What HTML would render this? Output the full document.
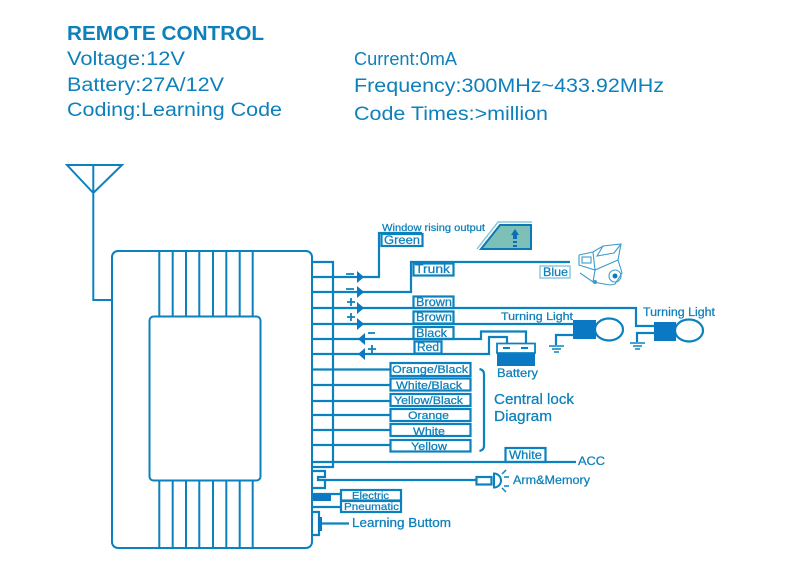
<!DOCTYPE html>
<html><head><meta charset="utf-8"><style>html,body{margin:0;padding:0;background:#fff;width:800px;height:579px;overflow:hidden}svg{display:block;filter:blur(0.35px)}text{font-family:"Liberation Sans",sans-serif;fill:#0e80bb}.s text{stroke:#0e80bb;stroke-width:.25}</style></head><body>
<svg width="800" height="579" viewBox="0 0 800 579">
<rect width="800" height="579" fill="#fff"/>
<g>
<text x="67" y="40" font-size="20" font-weight="bold" textLength="197" lengthAdjust="spacingAndGlyphs">REMOTE CONTROL</text>
<text x="67" y="65" font-size="19" textLength="118" lengthAdjust="spacingAndGlyphs">Voltage:12V</text>
<text x="67" y="91" font-size="19" textLength="157" lengthAdjust="spacingAndGlyphs">Battery:27A/12V</text>
<text x="67" y="116" font-size="19" textLength="215" lengthAdjust="spacingAndGlyphs">Coding:Learning Code</text>
<text x="354" y="65" font-size="18" textLength="103" lengthAdjust="spacingAndGlyphs">Current:0mA</text>
<text x="354" y="92" font-size="19" textLength="310" lengthAdjust="spacingAndGlyphs">Frequency:300MHz~433.92MHz</text>
<text x="354" y="120" font-size="19" textLength="194" lengthAdjust="spacingAndGlyphs">Code Times:&gt;million</text>
</g>
<g fill="none" stroke="#0b82bf" stroke-width="2">
<path d="M67 165H122L93.3 193ZM93.3 165V300H112"/>
<rect x="112" y="251" width="200" height="297" rx="6"/>
<rect x="149.500" y="316.500" width="111" height="164" rx="4"/>
<path d="M159.300 251V316M172.700 251V316M186 251V316M199.300 251V316M213 251V316M226.300 251V316M239.700 251V316M252.700 251V316"/>
<path d="M159.300 481V548M172.700 481V548M186 481V548M199.300 481V548M213 481V548M226.300 481V548M239.700 481V548M252.700 481V548"/>
</g>
<g fill="none" stroke="#0b82bf" stroke-width="2.200">
<path d="M312 262H333V467H313"/>
<path d="M313 277H379V233H422"/>
<path d="M313 292H411V262H570"/>
<path d="M313 308H636V326H654"/>
<path d="M313 324H574"/>
<path d="M313 339H481V331.500H526V343"/>
<path d="M313 354H489V337H507V343"/>
<path d="M313 369.500H390M313 385H390M313 401H390M313 415H390M313 430H390M313 445H390"/>
<path d="M313 462H576"/>
<path d="M313 471H325V477H318V480H476M313 488H325V480"/>
<path d="M313 494H341M313 507H341"/>
<path d="M313 512H319V535H313M322 523.500H349"/>
<rect x="381.500" y="234" width="41" height="12"/>
<rect x="413.500" y="263.500" width="40" height="12"/>
<rect x="413.500" y="296.500" width="40" height="11.500"/>
<rect x="413.500" y="311.500" width="40" height="12"/>
<rect x="413.500" y="327" width="40" height="12"/>
<rect x="414.500" y="341.500" width="27" height="12"/>
<rect x="390.500" y="363" width="80" height="13"/>
<rect x="390.500" y="378.500" width="80" height="12"/>
<rect x="390.500" y="394" width="80" height="12"/>
<rect x="390.500" y="409" width="80" height="12"/>
<rect x="390.500" y="424" width="80" height="12"/>
<rect x="390.500" y="440" width="80" height="11.500"/>
<rect x="505.500" y="448" width="40" height="14"/>
<rect x="341" y="490" width="60" height="10.500"/>
<rect x="341" y="501" width="60" height="11"/>
<path d="M479.500 369Q484 370 484 374V446Q484 450 479.500 451"/>
<path d="M556 345V335H574M637 342V333H654"/>
<ellipse cx="609" cy="329.500" rx="14" ry="11"/>
<ellipse cx="689" cy="330.500" rx="14" ry="11"/>
<rect x="476.500" y="477" width="15" height="7.500"/>
<path d="M506 470L502 474M509 477H504M509 486H504M506 492L502 488" stroke-width="1.500"/>
<path d="M549 346H564M552 349H561M554 352H559M630 343H645M633 346H642M635 349H640" stroke-width="1.500"/>
</g>
<path d="M494 473.500A7 7 0 1 1 494 487.500Z" fill="#fff" stroke="#0b82bf" stroke-width="2"/>
<g fill="#0b78c4">
<rect x="573" y="320" width="23" height="19"/>
<rect x="654" y="322" width="22" height="19"/>
<rect x="497" y="353" width="38" height="13"/>
<rect x="313" y="494" width="18" height="7"/>
<rect x="318" y="517" width="4" height="14"/>
<path d="M357 271L364 277L357 283ZM357 286L364 292L357 298ZM357 302L364 308L357 314ZM357 318L364 324L357 330ZM365 333L358 339L365 345ZM365 348L358 354L365 360Z"/>
</g>
<path d="M497 343.500H535V353H497Z" fill="#fff" stroke="#0b82bf" stroke-width="1.800"/>
<path d="M503 348H510M521 348H528" stroke="#0b82bf" stroke-width="2"/>
<path d="M477 249L498 222H532" fill="none" stroke="#8cc9d8" stroke-width="1.500"/>
<path d="M481 249L500 225H531V249Z" fill="#7cc0b8" stroke="#0b78b8" stroke-width="2"/>
<path d="M515 229L519 235H517V239H513V235H511ZM513 241H517V243H513ZM513 245H517V247H513Z" fill="#0b6fb8"/>
<rect x="540" y="266" width="30" height="12" fill="none" stroke="#70bcdc" stroke-width="1.200"/>
<g fill="none" stroke="#3a9ccc" stroke-width="1.100">
<path d="M579 255L593 252L603 246L621 244L618 260L622 273L615 284L610 285L593 282L580 273"/>
<path d="M579 255L579 265L595 270L618 260M593 252L595 270M603 246L597 256L614 253L621 244M595 270L593 282"/>
<rect x="582" y="257" width="9" height="6"/>
<circle cx="615" cy="276" r="6"/>
</g>
<circle cx="595" cy="282" r="2" fill="#3a9ccc"/>
<circle cx="615" cy="276" r="2.500" fill="#0b78c4"/>
<path d="M346 274H354M346 289H354M347 302H355M351 298V306M347 317H355M351 313V321M368 333H375M368 349H376M372 345V353" stroke="#0e80bb" stroke-width="1.800" fill="none"/>
<g font-size="11" class="s">
<text x="382" y="231" font-size="10.500" textLength="103" lengthAdjust="spacingAndGlyphs">Window rising output</text>
<text x="384" y="244" font-size="12" textLength="36" lengthAdjust="spacingAndGlyphs">Green</text>
<text x="415" y="273" font-size="12" textLength="35" lengthAdjust="spacingAndGlyphs">Trunk</text>
<text x="543" y="276" font-size="12" textLength="25" lengthAdjust="spacingAndGlyphs">Blue</text>
<text x="416" y="306" font-size="12" textLength="36" lengthAdjust="spacingAndGlyphs">Brown</text>
<text x="416" y="321" font-size="12" textLength="36" lengthAdjust="spacingAndGlyphs">Brown</text>
<text x="416" y="337" font-size="12" textLength="31" lengthAdjust="spacingAndGlyphs">Black</text>
<text x="417" y="351" font-size="12" textLength="22" lengthAdjust="spacingAndGlyphs">Red</text>
<text x="501" y="320" textLength="72" lengthAdjust="spacingAndGlyphs">Turning Light</text>
<text x="643" y="316" font-size="11.500" textLength="72" lengthAdjust="spacingAndGlyphs">Turning Light</text>
<text x="497" y="377" font-size="11.500" textLength="41" lengthAdjust="spacingAndGlyphs">Battery</text>
<text x="392" y="373" textLength="76" lengthAdjust="spacingAndGlyphs">Orange/Black</text>
<text x="396" y="389" textLength="66" lengthAdjust="spacingAndGlyphs">White/Black</text>
<text x="394" y="404" textLength="69" lengthAdjust="spacingAndGlyphs">Yellow/Black</text>
<text x="408" y="419" textLength="41" lengthAdjust="spacingAndGlyphs">Orange</text>
<text x="413" y="435" textLength="32" lengthAdjust="spacingAndGlyphs">White</text>
<text x="411" y="450" textLength="36" lengthAdjust="spacingAndGlyphs">Yellow</text>
<text x="494" y="404" font-size="14.500" textLength="80" lengthAdjust="spacingAndGlyphs">Central lock</text>
<text x="494" y="421" font-size="14.500" textLength="58" lengthAdjust="spacingAndGlyphs">Diagram</text>
<text x="509" y="459" font-size="12" textLength="33" lengthAdjust="spacingAndGlyphs">White</text>
<text x="578" y="465" font-size="11.500" textLength="27" lengthAdjust="spacingAndGlyphs">ACC</text>
<text x="513" y="484" font-size="12" textLength="77" lengthAdjust="spacingAndGlyphs">Arm&amp;Memory</text>
<text x="352" y="499" font-size="10" textLength="37" lengthAdjust="spacingAndGlyphs">Electric</text>
<text x="344" y="510" font-size="10.500" textLength="55" lengthAdjust="spacingAndGlyphs">Pneumatic</text>
<text x="352" y="527" font-size="12.500" textLength="99" lengthAdjust="spacingAndGlyphs">Learning Buttom</text>
</g>
</svg>
</body></html>
